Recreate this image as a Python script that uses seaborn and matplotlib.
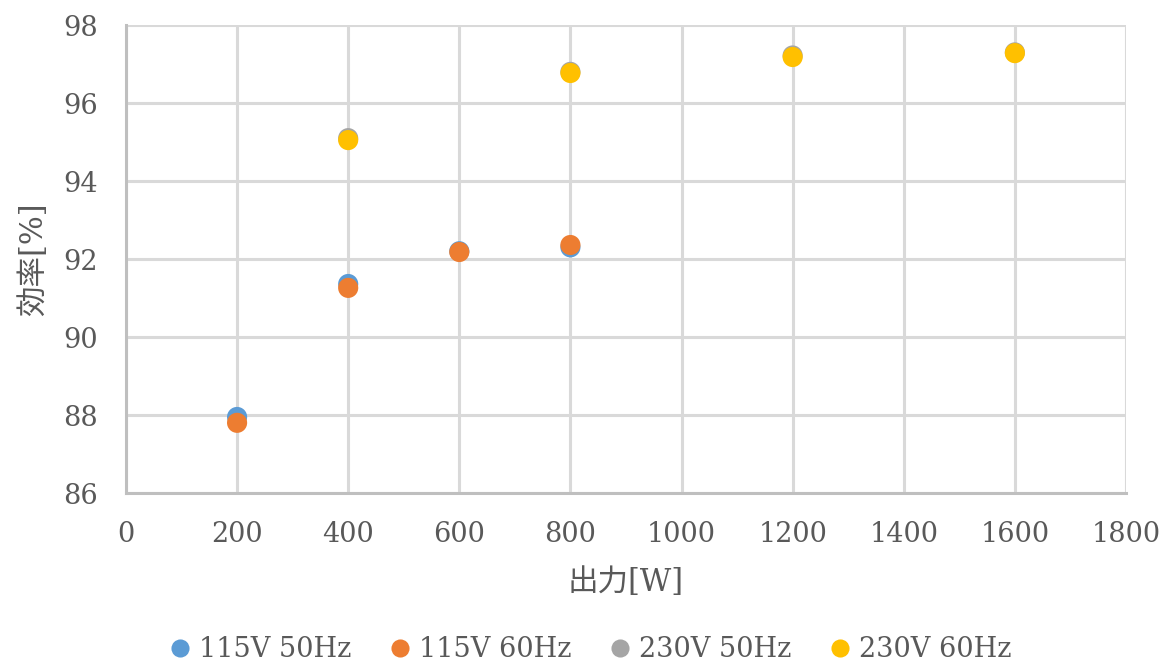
# -*- coding: utf-8 -*-

import pandas as pd
import matplotlib.pyplot as plt
import seaborn as sns

# Data ==================================================================================

series = ["115V 50Hz", "115V 60Hz", "230V 50Hz", "230V 60Hz"]
colors = ["#5B9BD5", "#ED7D31", "#A5A5A5", "#FFC000"]

power_115 = [200, 400, 600, 800]
eff_115_50 = [87.95, 91.36, 92.2, 92.3]
eff_115_60 = [87.8, 91.26, 92.18, 92.36]

power_230 = [400, 800, 1200, 1600]
eff_230_50 = [95.1, 96.8, 97.22, 97.3]
eff_230_60 = [95.05, 96.77, 97.18, 97.28]

x_ticks = [0, 200, 400, 600, 800, 1000, 1200, 1400, 1600, 1800]
y_ticks = [86, 88, 90, 92, 94, 96, 98]

# Build a long table for seaborn
frames = []
for name, xs, ys in [(series[0], power_115, eff_115_50),
                     (series[1], power_115, eff_115_60),
                     (series[2], power_230, eff_230_50),
                     (series[3], power_230, eff_230_60)]:
    frames.append(pd.DataFrame({"power": xs, "eff": ys, "series": name}))
df = pd.concat(frames, ignore_index=True)

# Plot ==================================================================================

sns.set_style("white")
plt.rcParams['font.family'] = ['DejaVu Serif', 'Noto Sans CJK JP']
text_color = "#595959"

fig = plt.figure(figsize=(11.62, 6.63), dpi=100)
ax = fig.add_axes([0.1084, 0.2564, 0.8606, 0.7058])

sns.scatterplot(data=df, x="power", y="eff", hue="series",
                hue_order=series, palette=colors,
                s=210, linewidth=0, ax=ax, zorder=3)

ax.set_xlim(0, 1800)
ax.set_ylim(86, 98)
ax.set_xticks(x_ticks)
ax.set_yticks(y_ticks)
ax.grid(True, color="#D9D9D9", linewidth=2.2, zorder=0)
ax.set_axisbelow(True)

for side in ["top", "right"]:
    ax.spines[side].set_visible(False)
for side in ["left", "bottom"]:
    ax.spines[side].set_color("#BFBFBF")
    ax.spines[side].set_linewidth(2.2)

ax.tick_params(axis="both", length=0, labelsize=19.5, labelcolor=text_color)
ax.tick_params(axis="x", pad=20)
ax.tick_params(axis="y", pad=20)
ax.set_xlabel("出力[W]", fontsize=22, color=text_color, labelpad=14)
ax.set_ylabel("効率[%]", fontsize=22, color=text_color, labelpad=10)

handles, labels = ax.get_legend_handles_labels()
ax.legend_.remove()
fig.legend(handles, labels, loc="center", bbox_to_anchor=(0.501, 0.02),
           ncol=4, frameon=False, fontsize=19.5, labelcolor=text_color,
           handletextpad=-0.3, columnspacing=0.8, markerscale=0.9)

plt.savefig("out.png", dpi=100)
